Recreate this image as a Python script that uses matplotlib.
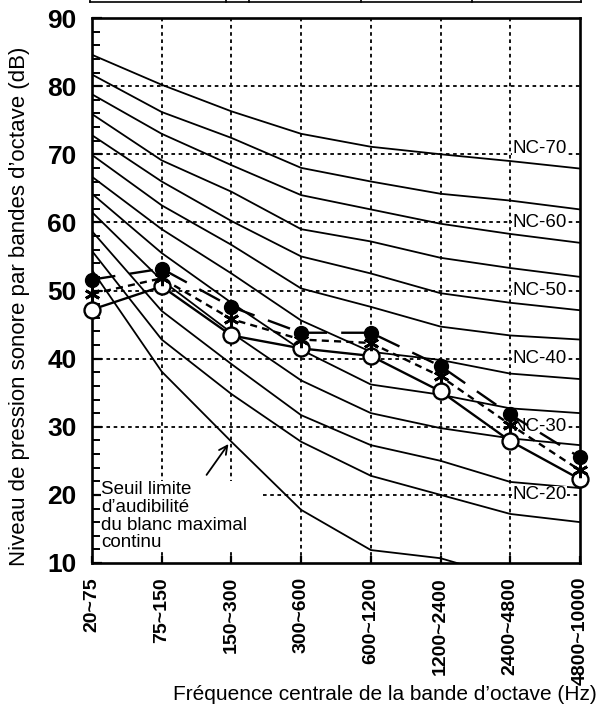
import matplotlib
matplotlib.use("Agg")
import matplotlib.pyplot as plt
from matplotlib.lines import Line2D

plt.rcParams['font.family'] = ['Liberation Sans', 'DejaVu Sans']

bands = ["20~75", "75~150", "150~300", "300~600", "600~1200",
         "1200~2400", "2400~4800", "4800~10000"]

nc_70 = [84.6, 80.2, 76.3, 73.0, 71.1, 70.0, 69.0, 67.9]
nc_65 = [81.7, 76.2, 72.4, 68.0, 66.0, 64.2, 63.2, 61.9]
nc_60 = [78.8, 73.0, 68.4, 64.0, 61.9, 59.8, 58.3, 57.0]
nc_55 = [75.9, 69.1, 64.5, 59.0, 57.2, 54.8, 53.3, 52.0]
nc_50 = [72.8, 66.0, 60.2, 55.0, 52.5, 49.6, 48.2, 47.1]
nc_45 = [69.9, 62.5, 56.7, 50.3, 47.6, 44.7, 43.4, 42.8]
nc_40 = [66.7, 59.0, 52.5, 45.6, 41.0, 39.8, 37.8, 37.0]
nc_35 = [64.2, 55.5, 48.2, 41.3, 36.2, 34.7, 32.7, 32.0]
nc_30 = [61.5, 51.5, 43.8, 36.8, 32.0, 29.8, 28.3, 27.3]
nc_25 = [58.7, 47.0, 39.2, 31.7, 27.3, 25.0, 21.9, 21.0]
nc_20 = [55.8, 42.8, 34.8, 27.8, 22.8, 20.0, 17.2, 16.0]
seuil = [53.0, 38.1, 27.8, 17.8, 11.9, 10.7, 7.7]

serie_pleine = [51.6, 53.2, 47.6, 43.8, 43.8, 38.9, 31.8, 25.5]
serie_etoile = [49.5, 51.8, 45.8, 42.8, 42.3, 37.4, 30.3, 23.6]
serie_vide = [47.2, 50.6, 43.4, 41.5, 40.4, 35.2, 27.9, 22.3]

nc_labels = ["NC-70", "NC-60", "NC-50", "NC-40", "NC-30", "NC-20"]
nc_label_levels = [70, 60, 50, 40, 30, 20]

W, H = 598, 707
fig = plt.figure(figsize=(W / 100, H / 100), dpi=100)
ax = fig.add_axes([92 / W, 1 - 563 / H, (580 - 92) / W, (563 - 18) / H])

x = list(range(len(bands)))
ax.set_xlim(0, 7)
ax.set_ylim(10, 90)

dot = (0, (2, 2))
for xv in range(1, 7):
    ax.plot([xv, xv], [10, 90], color='black', lw=1.3, ls=dot, zorder=1)
for yv in [30, 40, 50, 60, 70, 80]:
    ax.plot([0, 7], [yv, yv], color='black', lw=1.3, ls=dot, zorder=1)
ax.plot([2.45, 7], [20, 20], color='black', lw=1.3, ls=dot, zorder=1)

for curve in [nc_70, nc_65, nc_60, nc_55, nc_50, nc_45, nc_40, nc_35,
              nc_30, nc_25, nc_20]:
    ax.plot(x, curve, color='black', lw=1.3, zorder=2)
ax.plot(x[:len(seuil)], seuil, color='black', lw=1.3, zorder=2)

for lab, lev in zip(nc_labels, nc_label_levels):
    off = 0.8 if lev == 70 else 0.0
    ax.text(6.03, lev + off, lab, fontsize=13.5, ha='left', va='center',
            zorder=3, bbox=dict(facecolor='white', edgecolor='none', pad=0.2))

ax.plot(x, serie_vide, color='black', lw=1.7, marker='o', ms=11.5,
        mfc='white', mec='black', mew=1.7, zorder=5, clip_on=False)
ax.plot(x, serie_pleine, color='black', lw=1.7, ls=(0, (10, 6)),
        marker='o', ms=10, mfc='black', mec='black', zorder=6, clip_on=False)
ax.plot(x, serie_etoile, color='black', lw=1.7, ls=(0, (3, 2.2)),
        marker=(6, 2, 0), ms=11, mec='black', mew=2.0, zorder=7, clip_on=False)

ax.text(0.13, 22.0, "Seuil limite\nd\u2019audibilit\u00e9\ndu blanc maximal\ncontinu",
        fontsize=13.5, ha='left', va='top', linespacing=1.05, zorder=3,
        bbox=dict(facecolor='white', edgecolor='none', pad=0.2))
ax.annotate("", xy=(1.98, 27.8), xytext=(1.62, 22.6),
            arrowprops=dict(arrowstyle='->', color='black', lw=1.3,
                            mutation_scale=15), zorder=4)

for s in ax.spines.values():
    s.set_linewidth(1.9)

ax.set_yticks([10, 20, 30, 40, 50, 60, 70, 80, 90])
ax.set_yticks(list(range(12, 90, 2)), minor=True)
ax.tick_params(axis='y', which='major', direction='in', length=7, width=1.6,
               labelsize=19, pad=11)
ax.tick_params(axis='y', which='minor', direction='in', length=6, width=1.4)
for t in ax.get_yticklabels():
    t.set_fontweight('bold')

ax.set_xticks(x)
ax.set_xticklabels(bands, rotation=90, fontsize=14, fontweight='bold',
                   va='top', ha='center')
ax.tick_params(axis='x', which='major', direction='in', length=5, width=1.6,
               pad=10)
ax.tick_params(right=False, top=False)

fig.text(20 / W, 1 - 306 / H,
         "Niveau de pression sonore par bandes d\u2019octave (dB)",
         rotation=90, ha='center', va='center', fontsize=16)
fig.text(597 / W, 1 - 695 / H,
         "Fr\u00e9quence centrale de la bande d\u2019octave (Hz)",
         ha='right', va='center', fontsize=15)

# cut-off table border at the top
ty = 1 - 2 / H
fig.add_artist(Line2D([90 / W, 581 / W], [ty, ty], color='black', lw=1.2))
for px in [90, 226, 249, 361, 472, 581]:
    fig.add_artist(Line2D([px / W, px / W], [ty, 1.0], color='black', lw=1.2))

fig.savefig("out.png", dpi=100)
